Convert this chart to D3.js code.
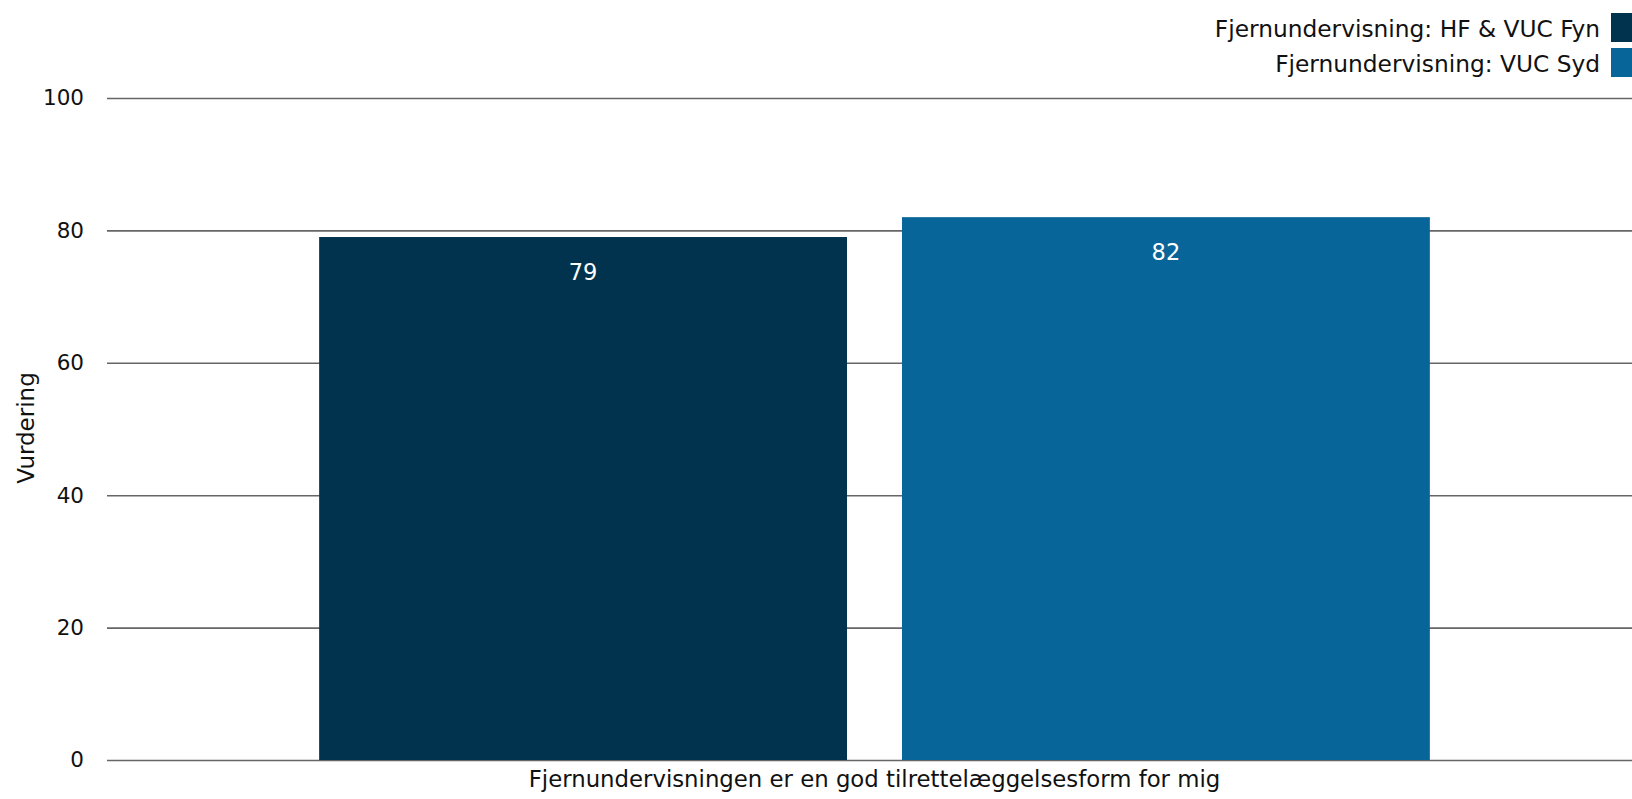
<!DOCTYPE html>
<html><head><meta charset="utf-8">
<script src="https://cdn.jsdelivr.net/npm/d3@7"></script>
<style>html,body{margin:0;padding:0;background:#fff;overflow:hidden}svg{display:block}text{font-family:"DejaVu Sans",Verdana,sans-serif}</style>
</head><body>
<script>
const categories = ["Fjernundervisningen er en god tilrettelæggelsesform for mig"];
const seriesNames = ["Fjernundervisning: HF & VUC Fyn", "Fjernundervisning: VUC Syd"];
const seriesValues = [[79], [82]];
const seriesColors = ["#01334f", "#08659a"];
const yTicks = [0, 20, 40, 60, 80, 100];
const yTitle = "Vurdering";

const W = 1632, H = 799;
const m = {left: 107, right: -10, top: 98, bottom: 39};
const svg = d3.select("body").append("svg").attr("width", W).attr("height", H);

const y = d3.scaleLinear().domain([0, 100]).range([H - m.bottom, m.top]);
const x0 = d3.scaleBand().domain(categories).range([m.left, W - m.right]).paddingInner(0).paddingOuter(0.191);
const x1 = d3.scaleBand().domain(seriesNames).range([0, x0.bandwidth()]).paddingInner(0.0943).paddingOuter(0);

// grid
const yAxis = d3.axisLeft(y).tickValues(yTicks).tickSize(-(W - m.left)).tickPadding(23);
const ga = svg.append("g").attr("transform", `translate(${m.left},0)`).call(yAxis);
ga.select(".domain").remove();
ga.selectAll(".tick line").attr("stroke", "#666").attr("stroke-width", 1.6);
ga.selectAll(".tick text").attr("font-size", 21.5).attr("fill", "#111").attr("font-family", '"DejaVu Sans",Verdana,sans-serif');

// bars
const rows = [];
categories.forEach((c, ci) => seriesNames.forEach((s, si) => rows.push({c, s, si, v: seriesValues[si][ci]})));
const bars = svg.append("g").selectAll("g").data(rows).join("g")
  .attr("transform", d => `translate(${x0(d.c) + x1(d.s)},0)`);
bars.append("rect").attr("x", 0).attr("width", x1.bandwidth())
  .attr("y", d => y(d.v)).attr("height", d => y(0) - y(d.v))
  .attr("fill", d => seriesColors[d.si]);
bars.append("text").attr("x", x1.bandwidth() / 2).attr("y", d => y(d.v) + 35)
  .attr("text-anchor", "middle").attr("dominant-baseline", "central")
  .attr("fill", "#fff").attr("font-size", 22.5).text(d => d.v);

// x label
svg.append("text").attr("x", x0(categories[0]) + x0.bandwidth() / 2).attr("y", 779)
  .attr("text-anchor", "middle").attr("dominant-baseline", "central")
  .attr("font-size", 22.8).attr("fill", "#111").text(categories[0]);

// y title
svg.append("text").attr("transform", "translate(26,428) rotate(-90)")
  .attr("text-anchor", "middle").attr("dominant-baseline", "central")
  .attr("font-size", 23).attr("fill", "#111").text(yTitle);

// legend
const lg = svg.append("g").selectAll("g").data(seriesNames).join("g")
  .attr("transform", (d, i) => `translate(0,${i * 35})`);
lg.append("rect").attr("x", 1611).attr("y", 13).attr("width", 30).attr("height", 29)
  .attr("fill", (d, i) => seriesColors[i]);
lg.append("text").attr("x", 1600).attr("y", 28).attr("text-anchor", "end")
  .attr("dominant-baseline", "central").attr("font-size", 23.3).attr("fill", "#111").text(d => d);
</script>
</body></html>
